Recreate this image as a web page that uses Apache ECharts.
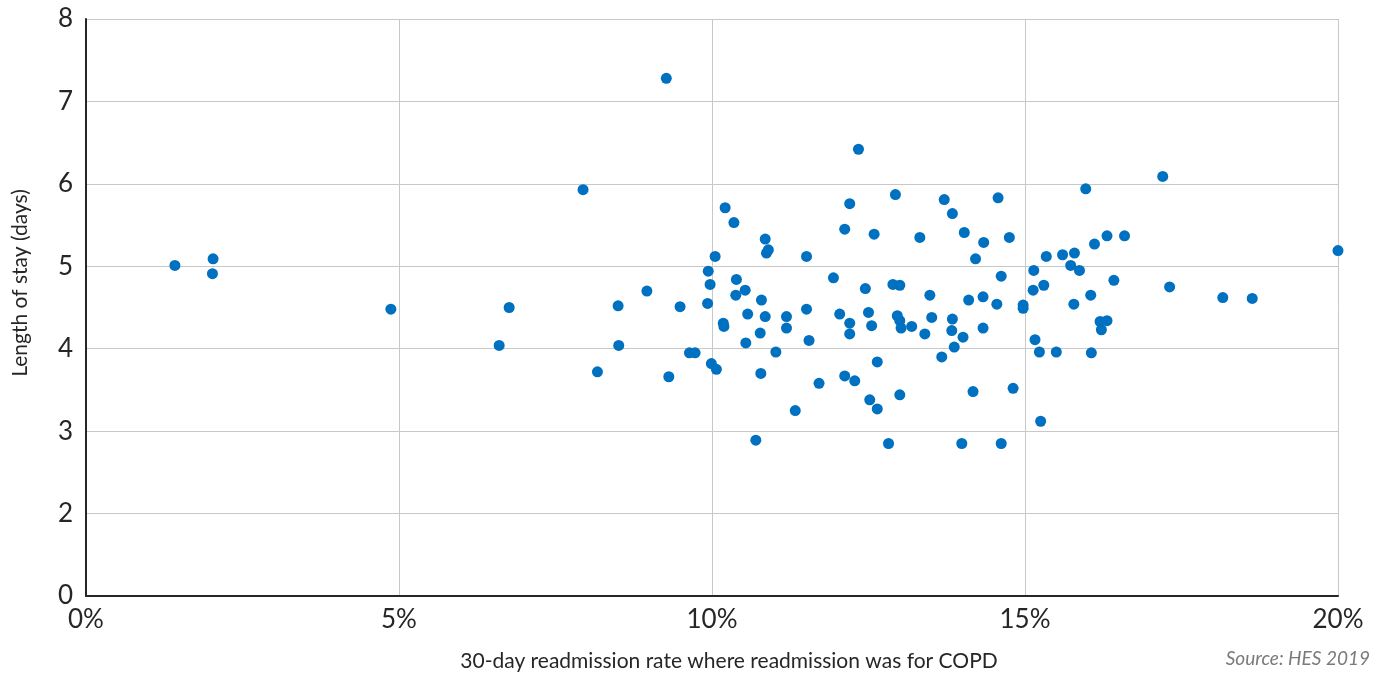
<!DOCTYPE html>
<html>
<head>
<meta charset="utf-8">
<script src="https://cdn.jsdelivr.net/npm/echarts@6/dist/echarts.min.js"></script>
<style>
  html, body { margin: 0; padding: 0; background: #ffffff; }
  #chart { width: 1386px; height: 675px; }
</style>
</head>
<body>
<div id="chart"></div>
<script>
// 30-day COPD readmission rate (%) per trust
const readmissionRate = [
  1.42, 2.03, 2.02, 4.87, 6.60, 6.76, 7.94, 8.17, 8.50, 8.51, 8.96, 9.27, 9.31, 9.49, 9.64, 9.73,
  9.93, 9.94, 9.97, 9.99, 10.07, 10.05,
  10.21, 10.35, 10.85, 10.90, 10.87, 11.51, 12.12, 12.20, 12.59, 12.93, 13.32, 13.71, 13.84, 14.03,
  14.57, 14.34, 14.75, 14.21, 10.39, 10.53, 10.38, 10.79, 10.57, 10.85, 10.18, 10.19, 10.77, 10.54,
  11.19, 11.19, 11.51, 11.55, 11.02, 10.78, 11.33, 10.70, 11.71, 11.94, 12.04, 12.20, 12.20, 12.12,
  12.28, 12.45, 12.50, 12.55, 12.64, 12.52, 12.64, 12.82, 12.89, 13.00, 12.96, 13.00, 13.02, 13.19,
  13.00, 13.48, 13.51, 13.40, 13.67, 13.84, 13.83, 13.87, 14.01, 14.10, 14.33, 14.33, 14.62, 14.55,
  14.17, 14.81, 13.99, 14.62, 12.34,
  17.20, 15.97, 16.31, 16.59, 16.11, 15.34, 15.60, 15.79, 20.00, 15.73, 15.87, 15.14, 15.30, 15.13,
  16.42, 17.31, 16.05, 18.16, 18.63, 14.97, 14.97, 15.78, 16.20, 16.31, 16.22, 15.16, 15.23, 15.50,
  16.06, 15.25
];

// Average length of stay (days), same order as readmissionRate
const lengthOfStay = [
  5.01, 5.09, 4.91, 4.48, 4.04, 4.50, 5.93, 3.72, 4.52, 4.04, 4.70, 7.28, 3.66, 4.51, 3.95, 3.95,
  4.55, 4.94, 4.78, 3.82, 3.75, 5.12,
  5.71, 5.53, 5.33, 5.20, 5.16, 5.12, 5.45, 5.76, 5.39, 5.87, 5.35, 5.81, 5.64, 5.41,
  5.83, 5.29, 5.35, 5.09, 4.84, 4.71, 4.65, 4.59, 4.42, 4.39, 4.31, 4.27, 4.19, 4.07,
  4.39, 4.25, 4.48, 4.10, 3.96, 3.70, 3.25, 2.89, 3.58, 4.86, 4.42, 4.31, 4.18, 3.67,
  3.61, 4.73, 4.44, 4.28, 3.84, 3.38, 3.27, 2.85, 4.78, 4.77, 4.40, 4.34, 4.25, 4.27,
  3.44, 4.65, 4.38, 4.18, 3.90, 4.36, 4.22, 4.02, 4.14, 4.59, 4.63, 4.25, 4.88, 4.54,
  3.48, 3.52, 2.85, 2.85, 6.42,
  6.09, 5.94, 5.37, 5.37, 5.27, 5.12, 5.14, 5.16, 5.19, 5.01, 4.95, 4.95, 4.77, 4.71,
  4.83, 4.75, 4.65, 4.62, 4.61, 4.53, 4.49, 4.54, 4.33, 4.34, 4.23, 4.11, 3.96, 3.96,
  3.95, 3.12
];

// Tick label text
const xTickSuffix = '%';
const yBottomLabel = '0';
const xAxisTitle = '30-day readmission rate where readmission was for COPD';
const yAxisTitle = 'Length of stay (days)';
const sourceNote = 'Source: HES 2019';

const points = readmissionRate.map((x, i) => [x, lengthOfStay[i]]);

const FONT = 'Lato, "Noto Sans", sans-serif';
const chart = echarts.init(document.getElementById('chart'), null, { renderer: 'canvas' });

chart.setOption({
  animation: false,
  backgroundColor: '#ffffff',
  grid: { left: 86, right: 48, top: 19, bottom: 79, containLabel: false },
  xAxis: {
    type: 'value',
    min: 0,
    max: 20,
    interval: 5,
    axisLine: { show: true, onZero: false, lineStyle: { color: '#262626', width: 2 } },
    axisTick: { show: false },
    splitLine: { show: true, lineStyle: { color: '#c8c8c8', width: 1 } },
    axisLabel: {
      formatter: v => v + xTickSuffix,
      color: '#262626',
      fontFamily: FONT,
      fontSize: 26,
      margin: 11
    }
  },
  yAxis: {
    type: 'value',
    min: 1,
    max: 8,
    interval: 1,
    axisLine: { show: true, onZero: false, lineStyle: { color: '#262626', width: 2 } },
    axisTick: { show: false },
    splitLine: { show: true, lineStyle: { color: '#c8c8c8', width: 1 } },
    axisLabel: {
      formatter: v => (v === 1 ? yBottomLabel : String(v)),
      color: '#262626',
      fontFamily: FONT,
      fontSize: 26,
      margin: 13
    }
  },
  graphic: [
    {
      type: 'text',
      x: 729,
      y: 661,
      style: {
        text: xAxisTitle,
        fill: '#262626',
        font: '21px ' + FONT,
        align: 'center',
        verticalAlign: 'middle'
      }
    },
    {
      type: 'text',
      x: 20,
      y: 283,
      rotation: Math.PI / 2,
      style: {
        text: yAxisTitle,
        fill: '#262626',
        font: '21px ' + FONT,
        align: 'center',
        verticalAlign: 'middle'
      }
    },
    {
      type: 'text',
      x: 1370,
      y: 659,
      style: {
        text: sourceNote,
        fill: '#7a7a7a',
        font: 'italic 19px ' + FONT,
        align: 'right',
        verticalAlign: 'middle'
      }
    }
  ],
  series: [
    {
      type: 'scatter',
      data: points,
      symbol: 'circle',
      symbolSize: 11,
      itemStyle: { color: '#0070c0', opacity: 1 },
      emphasis: { disabled: true }
    }
  ]
});
</script>
</body>
</html>
